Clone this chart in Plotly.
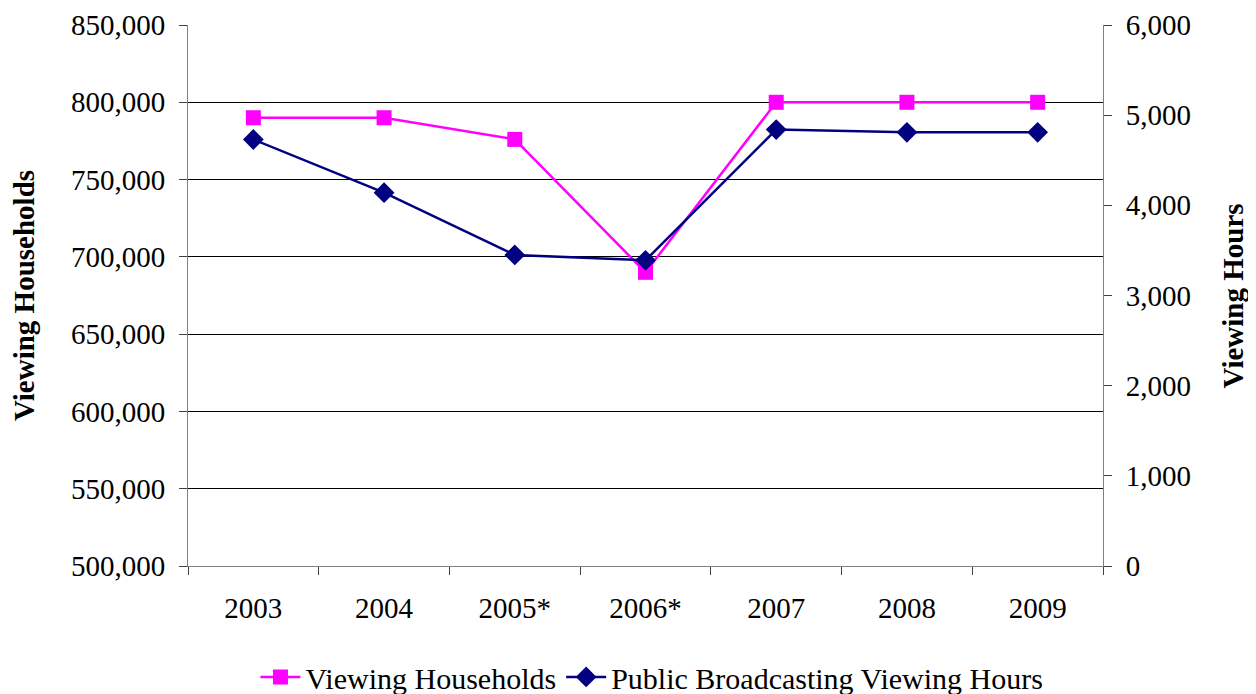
import plotly.graph_objects as go

years = ["2003", "2004", "2005*", "2006*", "2007", "2008", "2009"]
households = [790000, 790000, 776000, 690000, 800000, 800000, 800000]
hours = [4730, 4140, 3450, 3390, 4840, 4810, 4810]

FONT = "Liberation Serif"
FS = 29

fig = go.Figure()
fig.add_trace(go.Scatter(
    x=years, y=households, name="Viewing Households", mode="lines+markers",
    line=dict(color="#FF00FF", width=2.5),
    marker=dict(symbol="square", size=15, color="#FF00FF"),
    yaxis="y"))
fig.add_trace(go.Scatter(
    x=years, y=hours, name="Public Broadcasting Viewing Hours", mode="lines+markers",
    line=dict(color="#000080", width=2.5),
    marker=dict(symbol="diamond", size=16, color="#000080"),
    yaxis="y2"))

fig.update_layout(
    width=1248, height=686,
    margin=dict(l=180, r=153, t=17, b=128, autoexpand=False),
    paper_bgcolor="white", plot_bgcolor="white",
    font=dict(family=FONT, size=FS, color="black"),
    showlegend=True,
    legend=dict(orientation="h", x=0.516, xanchor="center", xref="container",
                y=-0.205, yanchor="middle", yref="paper",
                font=dict(family=FONT, size=30), itemwidth=40, tracegroupgap=0,
                bgcolor="rgba(0,0,0,0)"),
    xaxis=dict(type="category", range=[-0.5, len(years) - 0.5],
               showgrid=False, showline=True, linecolor="#808080",
               linewidth=1, ticks="outside", tickson="boundaries", ticklen=8,
               tickcolor="#404040", tickfont=dict(size=FS), ticklabelstandoff=16),
    yaxis=dict(range=[500000, 850000], dtick=50000, tickformat=",d",
               showgrid=True, gridcolor="black", gridwidth=1,
               showline=True, linecolor="#808080", linewidth=1,
               ticks="outside", ticklen=8, tickcolor="#404040",
               tickfont=dict(size=FS), ticklabelstandoff=8,
               title=dict(text="<b>Viewing Households</b>", font=dict(size=FS), standoff=27)),
    yaxis2=dict(range=[0, 6000], dtick=1000, tickformat=",d", overlaying="y", side="right",
                showgrid=False, showline=True, linecolor="#808080", linewidth=1,
                ticks="outside", ticklen=8, tickcolor="#404040",
                tickfont=dict(size=FS), zeroline=False, ticklabelstandoff=8),
    annotations=[dict(text="<b>Viewing Hours</b>", xref="paper", yref="paper",
                      x=1.142, y=0.5, xanchor="center", yanchor="middle",
                      textangle=-90, showarrow=False, font=dict(family=FONT, size=FS))],
)

fig.write_html("out.html")
